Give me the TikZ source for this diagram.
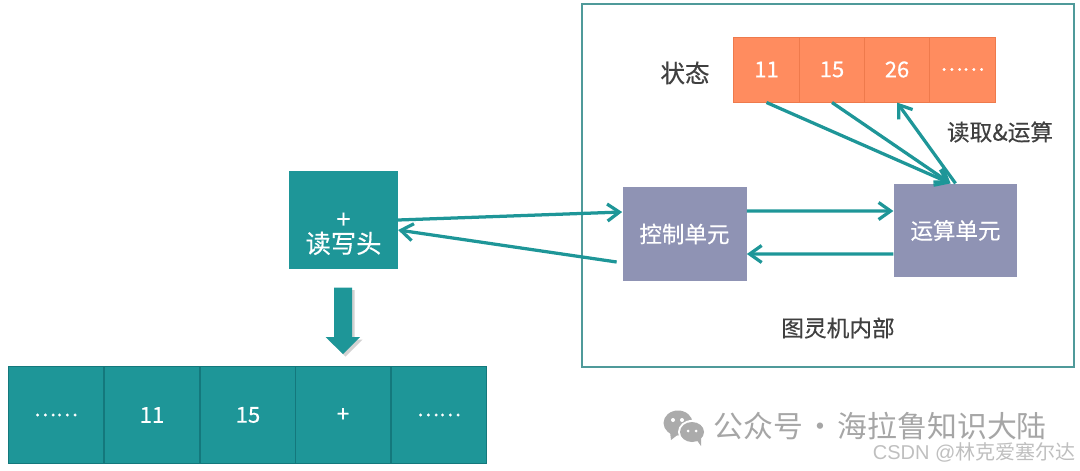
\documentclass[tikz,border=0pt]{standalone}
\usepackage{fontspec}
\setmainfont[FakeBold=0.35]{Noto Sans CJK SC}
\newfontfamily\plainfont{Noto Sans CJK SC}
\newfontfamily\latinfont{Liberation Sans}
\usetikzlibrary{arrows.meta,shadows}
\definecolor{tealbox}{HTML}{1E9698}
\definecolor{tealline}{HTML}{14787C}
\definecolor{framecolor}{HTML}{4F9A9A}
\definecolor{orangebox}{HTML}{FF8C5F}
\definecolor{orangeline}{HTML}{EE7A4C}
\definecolor{unitbox}{HTML}{8F93B4}
\tikzset{
	tapecell/.style={draw=tealline, line width=0.2mm, fill=tealbox, text=white, inner sep=0, minimum width=1.916cm, minimum height=1.93cm, font=\fontsize{12.5}{14}\selectfont},
	statecell/.style={draw=orangeline, line width=0.2mm, fill=orangebox, text=white, inner sep=0, minimum width=1.305cm, minimum height=1.3cm, font=\fontsize{12.5}{14}\selectfont},
	unitnode/.style={fill=unitbox, text=white, inner sep=0, minimum width=2.48cm, minimum height=1.88cm, font=\fontsize{12.8}{15}\selectfont},
	label/.style={text=black!75, inner sep=0},
	link/.style={line width=0.65mm, color=tealbox, -{Straight Barb[length=2.4mm,width=3.4mm,line width=0.65mm]}},
}
\begin{document}
\begin{tikzpicture}
	\useasboundingbox (0, 0) rectangle (21.6, 9.4);
	
	% inside of the machine
	\draw[line width=0.3mm, color=framecolor] (11.64, 9.32) rectangle (21.48, 2.06);
	
	\node[statecell] (c11) at (15.33, 8.01) {11};
	\node[statecell] (c15) at (16.64, 8.01) {15};
	\node[statecell] (c26) at (17.94, 8.01) {26};
	\node[statecell, font=\fontsize{11.8}{14}\selectfont] (cdots) at (19.25, 8.01) {……};
	\node[label, font=\fontsize{14}{16}\selectfont] (state) at (13.7, 7.94) {状态};
	\node[label, font=\fontsize{12.9}{15}\selectfont] (calc) at (20, 6.76) {读取\&运算};
	
	\node[unitnode] (ctrl) at (13.69, 4.72) {控制单元};
	\node[unitnode, minimum width=2.47cm, minimum height=1.87cm] (alu) at (19.11, 4.79) {运算单元};
	\node[label, font=\fontsize{12.9}{15}\selectfont] (inside) at (16.76, 2.84) {图灵机内部};
	
	% head and tape
	\node[fill=tealbox, draw=tealbox, text=white, inner sep=0, minimum width=2.17cm, minimum height=1.93cm, align=center, font=\fontsize{14.4}{14.5}\selectfont] (head) at (6.87, 5.0) {\fontsize{12.5}{12.5}\selectfont \mbox{}\\[0.36cm]+\\[-0.02cm]读写头};
	
	\draw[fill=tealbox, draw=none, drop shadow={shadow xshift=0.05cm, shadow yshift=-0.05cm, fill=black!35, opacity=0.5}] (6.68, 3.65) -- (7.04, 3.65) -- (7.04, 2.66) -- (7.2, 2.66) -- (6.86, 2.32) -- (6.51, 2.66) -- (6.68, 2.66) -- cycle;
	
	\node[tapecell, font=\fontsize{11.8}{14}\selectfont] (t1) at (1.12, 1.1) {……};
	\node[tapecell] (t2) at (3.04, 1.1) {11};
	\node[tapecell] (t3) at (4.96, 1.1) {15};
	\node[tapecell] (t4) at (6.86, 1.1) {+};
	\node[tapecell, font=\fontsize{11.8}{14}\selectfont] (t5) at (8.78, 1.1) {……};
	
	% connectors
	\draw[link] (head.east) -- ([yshift=0.44cm]ctrl.west);
	\draw[link] ([xshift=-0.11cm, yshift=-0.56cm]ctrl.west) -- ([yshift=-0.2cm]head.east);
	\draw[link] ([yshift=0.46cm]ctrl.east) -- ([yshift=0.39cm]alu.west);
	\draw[link] ([yshift=-0.47cm]alu.west) -- ([yshift=-0.4cm]ctrl.east);
	\draw[link] (c11.south) -- ([xshift=-0.1cm]alu.north);
	\draw[link] (c15.south) -- ([xshift=-0.1cm]alu.north);
	\draw[link] (alu.north) -- (c26.south);
	
	% watermark
	\fill[color=black!33] (13.56, 0.94) ellipse (0.29 and 0.25);
	\fill[color=black!33] (13.4, 0.76) -- (13.42, 0.6) -- (13.6, 0.74) -- cycle;
	\fill[color=white] (13.84, 0.76) ellipse (0.28 and 0.24);
	\fill[color=black!33] (13.84, 0.76) ellipse (0.24 and 0.2);
	\fill[color=black!33] (13.92, 0.62) -- (14.02, 0.48) -- (14.02, 0.64) -- cycle;
	\fill[color=white] (13.46, 1.0) circle (0.04);
	\fill[color=white] (13.64, 1.0) circle (0.04);
	\fill[color=white] (13.76, 0.78) circle (0.03);
	\fill[color=white] (13.92, 0.78) circle (0.03);
	\node[anchor=west, text=black!35, inner sep=0, font=\plainfont\fontsize{17}{18}\selectfont] (mark) at (14.26, 0.88) {公众号\hspace{0.08em}·\hspace{0.08em}海拉鲁知识大陆};
	\node[anchor=east, text=black!25, inner sep=0, font=\plainfont\fontsize{11.4}{13}\selectfont] (csdn) at (21.52, 0.36) {{\latinfont CSDN @}林克爱塞尔达};
\end{tikzpicture}
\end{document}
